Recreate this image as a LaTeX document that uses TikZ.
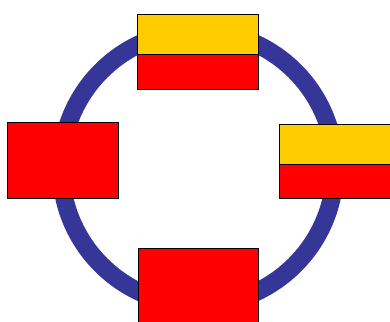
\documentclass[tikz,border=0pt]{standalone}
\usepackage{tikz}
\usetikzlibrary{positioning}
\definecolor{Ringblue}{RGB}{54,54,153}
\definecolor{Boxyellow}{RGB}{255,204,0}
\definecolor{Boxred}{RGB}{255,0,0}
\begin{document}
\begin{tikzpicture}[
  x=0.025cm, y=-0.025cm,
  ring/.style={draw=Ringblue, line width=0.45cm},
  ybox/.style={rectangle, draw=black, fill=Boxyellow, line width=0.7pt,
               outer sep=0pt, inner sep=0pt},
  rbox/.style={rectangle, draw=black, fill=Boxred, line width=0.7pt,
               outer sep=0pt, inner sep=0pt}
]
\useasboundingbox (0,0) rectangle (390,322);

%% ring
\coordinate (centre) at (198,168);
\draw[ring] (centre) circle[radius=137];

%% top block
\node[ybox, minimum width=3cm, minimum height=1cm]       (topy) at (198,34) {};
\node[rbox, minimum width=3cm, minimum height=0.875cm, below=0pt of topy] (topr) {};

%% left block
\node[rbox, minimum width=2.75cm, minimum height=1.875cm] (left) at (63,160.5) {};

%% right block
\node[ybox, minimum width=2.775cm, minimum height=1cm]    (righty) at (335.5,144) {};
\node[rbox, minimum width=2.775cm, minimum height=0.85cm, below=0pt of righty] (rightr) {};

%% bottom block
\node[rbox, minimum width=2.975cm, minimum height=1.875cm] (bottom) at (198.5,286.5) {};

\end{tikzpicture}
\end{document}
